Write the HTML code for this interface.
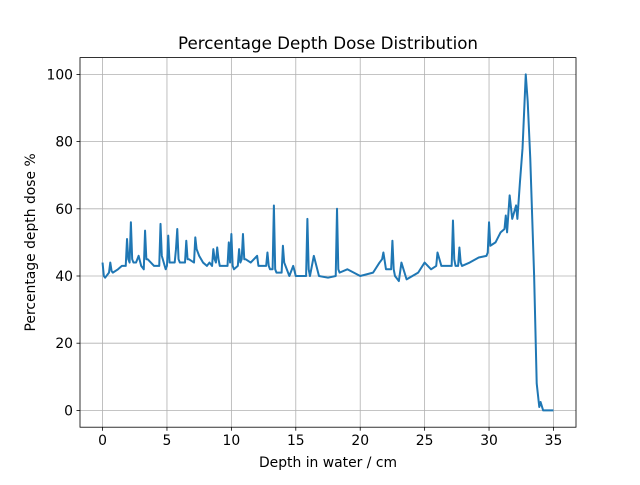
<!DOCTYPE html>
<html><head><meta charset="utf-8"><style>
body{margin:0;background:#fff;}
svg text{font-family:"DejaVu Sans","Liberation Sans",sans-serif;}
</style></head><body>
<svg id="chart" width="640" height="480"></svg>
<script>
const depths=[0,0.1,0.2,0.5,0.6,0.7,0.8,1.2,1.5,1.8,1.9,2.0,2.1,2.2,2.3,2.4,2.6,2.8,3.0,3.2,3.3,3.4,3.5,4.0,4.4,4.5,4.6,4.9,5.0,5.1,5.2,5.3,5.6,5.7,5.8,5.9,6.0,6.4,6.5,6.6,6.7,7.1,7.2,7.3,7.5,7.8,8.1,8.3,8.5,8.6,8.7,8.8,8.9,9.0,9.1,9.2,9.7,9.8,9.9,10.0,10.1,10.2,10.5,10.6,10.7,10.8,10.9,11.0,11.1,11.5,12.0,12.1,12.2,12.7,12.8,12.9,13.0,13.2,13.3,13.4,13.5,13.9,14.0,14.1,14.2,14.5,14.8,15.0,15.5,15.8,15.9,16.0,16.1,16.4,16.8,17.5,18.1,18.2,18.3,18.4,19.0,19.5,20.0,21.0,21.5,21.7,21.8,22.0,22.4,22.5,22.6,22.7,23.0,23.2,23.6,24.5,25.0,25.5,25.9,26.0,26.3,27.1,27.2,27.3,27.4,27.6,27.7,27.8,27.9,28.5,29.2,29.8,29.9,30.0,30.1,30.5,30.9,31.2,31.3,31.4,31.6,31.8,32.1,32.2,32.4,32.6,32.85,33.0,33.2,33.5,33.7,33.9,34.0,34.2,35.0];
const doses=[44,40,39.5,41,44,41.5,41,42,43,43,51,45,44,56,45,44,44,46,43,42,53.5,45,45,43,43,55.5,46,42,43,52,44,44,44,48,54,45,44,44,50.5,45,45,44,51.5,48,46,44,43,44,43,48,45,44,48.5,45,43,43,43,50,44,52.5,43,42,43,48,44,45,52.5,45,45,44,46,43,43,43,47,43,42,42,61,42,41,41,49,44,43,40,43,40,40,40,57,42,40,46,40,39.5,40,60,42,41,42,41,40,41,44,45,47,42,42,50.5,42,40,38.5,44,39,41,44,42,43,47,43,43,56.5,45,43,43,48.5,44,43,44,45.5,46,47,56,49,50,53,54,58,53,64,57,61,57,68,78,100,92,75,40,8,1,2.5,0,0];
const xTicks=[0,5,10,15,20,25,30,35];
const yTicks=[0,20,40,60,80,100];
const NS='http://www.w3.org/2000/svg';
const svg=document.getElementById('chart');
const L=80,R=576,T=57.6,B=427.2;
const xs=v=>L+(v+1.75)/38.5*(R-L);
const ys=v=>B-(v+5)/110*(B-T);
function el(t,a,p){const e=document.createElementNS(NS,t);for(const k in a)e.setAttribute(k,a[k]);(p||svg).appendChild(e);return e;}
xTicks.forEach(v=>{const x=xs(v);
const g=el('line',{x1:x,x2:x,y1:T,y2:B,stroke:'#b0b0b0','stroke-width':0.8});

el('line',{x1:x,x2:x,y1:B,y2:B+3.5,stroke:'#000','stroke-width':0.8});
const t=el('text',{x:x,y:B+18,'text-anchor':'middle','font-size':13.9});t.textContent=v;
});
yTicks.forEach(v=>{const y=ys(v);
const g=el('line',{x1:L,x2:R,y1:y,y2:y,stroke:'#b0b0b0','stroke-width':0.8});

el('line',{x1:L-3.5,x2:L,y1:y,y2:y,stroke:'#000','stroke-width':0.8});
const t=el('text',{x:L-7,y:y+5,'text-anchor':'end','font-size':13.9});t.textContent=v;
});
const line=el('polyline',{points:depths.map((d,i)=>xs(d)+','+ys(doses[i])).join(' '),fill:'none',stroke:'#1f77b4','stroke-width':2,'stroke-linejoin':'round'});

const fr=el('rect',{x:L,y:T,width:R-L,height:B-T,fill:'none',stroke:'#000','stroke-width':0.8});

const tt=el('text',{x:(L+R)/2,y:49,'text-anchor':'middle','font-size':16.7});tt.textContent='Percentage Depth Dose Distribution';

const xl=el('text',{x:(L+R)/2,y:467,'text-anchor':'middle','font-size':13.9});xl.textContent='Depth in water / cm';

const yl=el('text',{x:0,y:0,'text-anchor':'middle','font-size':13.9,transform:'translate(35,'+((T+B)/2)+') rotate(-90)'});yl.textContent='Percentage depth dose %';

</script>
</body></html>
